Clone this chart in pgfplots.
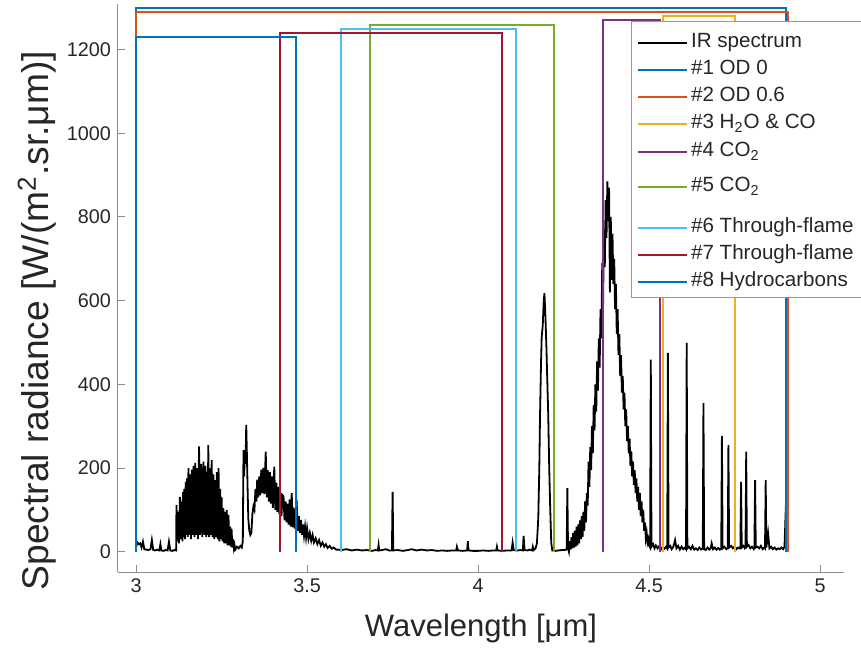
\documentclass[border=0pt]{standalone}
\usepackage{pgfplots}
\pgfplotsset{compat=1.18}
\usepackage{fontspec}
\setmainfont{Liberation Sans}
\definecolor{mA}{rgb}{0,0.447,0.741}
\definecolor{mB}{rgb}{0.850,0.325,0.098}
\definecolor{mC}{rgb}{0.929,0.694,0.125}
\definecolor{mD}{rgb}{0.494,0.184,0.556}
\definecolor{mE}{rgb}{0.466,0.674,0.188}
\definecolor{mF}{rgb}{0.301,0.745,0.933}
\definecolor{mG}{rgb}{0.635,0.078,0.184}
\definecolor{txt}{rgb}{0.15,0.15,0.15}
\begin{document}
\begin{tikzpicture}
\begin{axis}[
  scale only axis, width=363pt, height=284.2pt,
  xmin=2.947, xmax=5.07, ymin=-48.5, ymax=1310,
  axis lines*=left,
  axis line style={black!45, line width=0.5pt},
  tick style={black!45, line width=0.5pt},
  major tick length=3.5pt,
  tick align=inside,
  xtick={3,3.5,4,4.5,5}, xticklabels={3,3.5,4,4.5,5},
  ytick={0,200,400,600,800,1000,1200},
  yticklabels={0,200,400,600,800,1000,1200},
  /pgf/number format/assume math mode=true,
  tick label style={font=\fontsize{9.9}{11.8}\selectfont, text=txt},
  every axis x label/.style={at={(axis description cs:0.5,0)}, anchor=center, yshift=-28pt},
  every axis y label/.style={at={(axis description cs:-0.1116,0.442)}, rotate=90, anchor=center},
  xlabel style={font=\fontsize{15.5}{18}\selectfont, text=txt},
  ylabel style={font=\fontsize{18.6}{22}\selectfont, text=txt},
  xlabel={Wavelength [μm]},
  ylabel={Spectral radiance [W/(m\textsuperscript{2}.sr.μm)]},
  legend cell align=left,
  legend image code/.code={\draw[#1] (0pt,0pt) -- (24.5pt,0pt);},
  legend style={at={(rel axis cs:0.706,0.970)}, anchor=north west,
    draw=black!40, line width=0.5pt, fill=white,
    font=\fontsize{10.3}{12.4}\selectfont, text=txt,
    nodes={inner ysep=1.9pt, inner xsep=1.5pt, text height=7.5pt, text depth=2.2pt},
    inner xsep=3pt, inner ysep=2.5pt},
]
\addplot[black, line width=0.9pt] coordinates {
(3.000,12)(3.004,22)(3.008,18)(3.012,20)(3.016,10)(3.020,24)(3.024,6)(3.030,5)(3.036,4)(3.042,6)
(3.046,28)(3.050,4)(3.056,3)(3.062,5)(3.068,3)(3.071,18)(3.074,3)(3.080,2)(3.086,4)(3.092,3)
(3.096,24)(3.100,3)(3.106,2)(3.112,4)(3.117,3)
(3.118,112)(3.1205,25)(3.123,95)(3.1255,20)(3.128,131)(3.1305,30)(3.133,120)(3.1355,25)(3.137,143)(3.139,35)
(3.141,150)(3.143,30)(3.145,167)(3.147,40)(3.149,175)(3.151,35)(3.153,200)(3.1555,40)(3.158,185)(3.1605,30)
(3.163,196)(3.1655,40)(3.168,205)(3.1705,35)(3.173,212)(3.1755,40)(3.178,200)(3.181,30)(3.184,252)(3.187,40)
(3.190,210)(3.1935,35)(3.197,215)(3.200,40)(3.203,205)(3.205,35)(3.207,190)(3.209,40)(3.211,255)(3.2135,35)
(3.216,200)(3.2185,40)(3.221,219)(3.2235,35)(3.226,185)(3.2285,30)(3.231,171)(3.2335,35)(3.236,190)(3.2385,30)
(3.241,200)(3.2435,25)(3.246,150)(3.248,30)(3.250,130)(3.2525,25)(3.255,104)(3.2575,20)(3.260,95)(3.2625,20)
(3.265,100)(3.2675,15)(3.270,88)(3.2725,15)(3.275,60)(3.277,12)(3.279,55)(3.2815,10)(3.284,30)(3.286,8)
(3.288,15)(3.290,5)
(3.295,12)(3.300,8)(3.305,14)(3.309,10)(3.312,25)(3.314,243)(3.316,180)(3.318,243)(3.320,210)(3.322,303)
(3.324,230)(3.326,150)(3.328,80)(3.331,50)(3.334,40)(3.337,45)(3.340,90)(3.343,108)(3.346,100)(3.349,150)
(3.352,120)(3.354,172)(3.357,130)(3.360,180)(3.363,135)(3.366,196)(3.369,140)(3.372,200)(3.375,138)(3.379,239)
(3.382,130)(3.385,195)(3.388,120)(3.391,191)(3.394,115)(3.397,180)(3.400,105)(3.404,203)(3.407,100)(3.410,165)
(3.413,95)(3.416,155)(3.419,90)(3.422,140)(3.425,85)(3.428,135)(3.431,132)(3.434,75)(3.437,120)(3.440,70)
(3.443,115)(3.446,65)(3.449,125)(3.452,60)(3.455,140)(3.458,58)(3.461,105)(3.464,55)(3.467,95)(3.470,108)
(3.473,50)(3.476,85)(3.479,45)(3.482,76)(3.485,40)(3.488,65)(3.491,38)(3.494,60)(3.497,34)(3.500,56)
(3.504,30)(3.508,45)(3.512,26)(3.516,40)(3.520,22)(3.525,32)(3.530,18)(3.535,28)(3.540,14)(3.545,22)
(3.550,12)(3.555,18)(3.560,9)(3.566,14)(3.572,7)(3.578,10)(3.585,5)
(3.590,5)(3.600,4)(3.615,6)(3.630,3)(3.645,5)(3.660,3)(3.675,4)(3.690,2)(3.700,4)(3.707,3)
(3.709,16)(3.711,3)(3.720,4)(3.730,6)(3.740,3)(3.748,3)(3.750,143)(3.752,3)(3.765,4)(3.780,2)
(3.795,4)(3.806,6)(3.820,3)(3.835,5)(3.850,3)(3.865,4)(3.880,2)(3.895,3)(3.910,2)(3.925,3)
(3.936,3)(3.938,12)(3.941,3)(3.955,2)(3.968,3)(3.970,25)(3.972,3)(3.985,2)(4.000,2)(4.015,3)
(4.030,2)(4.045,3)(4.053,3)(4.055,12)(4.057,3)(4.070,2)(4.085,3)(4.098,3)(4.101,22)(4.104,4)
(4.115,3)(4.125,4)(4.131,3)(4.133,38)(4.136,4)(4.145,3)(4.150,5)(4.158,3)(4.160,12)(4.163,4)
(4.168,8)
(4.172,20)(4.176,80)(4.179,200)(4.181,320)(4.184,450)(4.186,514)(4.189,540)(4.192,600)(4.194,618)(4.197,560)
(4.200,482)(4.202,420)(4.205,330)(4.208,200)(4.211,100)(4.214,20)(4.217,3)(4.225,2)(4.235,3)(4.245,4)
(4.255,4)(4.259,6)(4.261,152)(4.263,8)
(4.2655,0)(4.268,25)(4.2705,5)(4.273,35)(4.2755,8)(4.278,45)(4.2805,10)(4.283,50)(4.2855,12)(4.288,60)
(4.2905,15)(4.293,65)(4.2955,20)(4.298,75)(4.3005,30)(4.303,85)(4.3055,35)(4.308,95)(4.3105,50)(4.313,120)
(4.3155,70)(4.318,140)(4.3205,110)(4.323,215)(4.3255,155)(4.328,250)(4.3305,195)(4.333,300)(4.3355,235)(4.338,350)
(4.3405,290)(4.343,400)(4.3455,335)(4.348,455)(4.3505,385)(4.353,510)(4.3555,440)(4.358,580)(4.3605,510)(4.363,690)
(4.3655,590)(4.368,770)(4.3705,680)(4.373,840)(4.3755,750)(4.378,885)(4.3805,790)(4.383,870)(4.3855,620)(4.388,800)
(4.3905,650)(4.393,760)(4.3955,640)(4.398,700)(4.4005,580)(4.403,640)(4.4055,520)(4.408,580)(4.4105,470)(4.413,520)
(4.4155,420)(4.418,470)(4.4205,380)(4.423,420)(4.4255,340)(4.428,380)(4.4305,300)(4.433,340)(4.4355,265)(4.438,300)
(4.4405,235)(4.443,270)(4.4455,205)(4.448,240)(4.4505,180)(4.453,215)(4.4555,160)(4.458,195)(4.4605,140)(4.463,175)
(4.4655,120)(4.468,155)(4.4705,100)(4.473,140)(4.4755,85)(4.478,120)(4.4805,70)(4.483,100)(4.4855,50)(4.488,70)
(4.4905,32)(4.493,45)(4.4955,22)(4.498,30)(4.500,15)
(4.503,10)(4.505,459)(4.507,12)(4.512,18)(4.516,8)(4.520,15)(4.525,8)(4.530,14)(4.535,6)(4.540,12)
(4.545,7)(4.550,12)(4.553,8)(4.555,475)(4.557,10)(4.562,14)(4.566,6)(4.571,12)(4.576,28)(4.580,8)
(4.585,14)(4.590,5)(4.595,12)(4.600,6)(4.605,10)(4.608,6)(4.610,499)(4.612,8)(4.617,12)(4.622,6)
(4.627,14)(4.632,5)(4.637,8)(4.642,4)(4.647,10)(4.652,5)(4.657,8)(4.659,355)(4.661,6)(4.666,4)
(4.671,10)(4.676,5)(4.680,8)(4.683,20)(4.687,6)(4.692,10)(4.697,5)(4.702,9)(4.707,5)(4.711,8)
(4.713,277)(4.715,8)(4.720,12)(4.726,6)(4.730,9)(4.732,255)(4.734,10)(4.740,14)(4.745,8)(4.750,12)
(4.755,6)(4.760,10)(4.765,8)(4.767,12)(4.769,167)(4.771,10)(4.776,14)(4.780,8)(4.782,10)(4.784,239)
(4.786,12)(4.791,16)(4.796,8)(4.801,12)(4.806,6)(4.808,10)(4.810,171)(4.812,10)(4.817,12)(4.822,8)
(4.827,14)(4.832,6)(4.837,10)(4.839,8)(4.841,171)(4.843,10)(4.848,44)(4.852,8)(4.857,12)(4.862,6)
(4.867,10)(4.872,5)(4.877,8)(4.882,6)(4.887,10)(4.892,6)(4.896,12)(4.898,60)(4.900,110)(4.902,143)
};
\addlegendentry[text height=9pt, yshift=0.75pt]{IR spectrum}
\addplot[mA, line width=1pt] coordinates {(3.0,0)(3.0,1300)(4.9,1300)(4.9,0)};
\addlegendentry{\#1 OD 0}
\addplot[mB, line width=1pt] coordinates {(3.0,0)(3.0,1290)(4.905,1290)(4.905,0)};
\addlegendentry{\#2 OD 0.6}
\addplot[mC, line width=1pt] coordinates {(4.54,0)(4.54,1280)(4.75,1280)(4.75,0)};
\addlegendentry[text depth=2.7pt, yshift=-0.25pt]{\#3 H\textsubscript{2}O \& CO}
\addplot[mD, line width=1pt] coordinates {(4.364,0)(4.364,1270)(4.532,1270)(4.532,0)};
\addlegendentry[text depth=6.2pt, yshift=-2pt]{\#4 CO\textsubscript{2}}
\addplot[mE, line width=1pt] coordinates {(3.684,0)(3.684,1260)(4.222,1260)(4.222,0)};
\addlegendentry[text depth=9.2pt, yshift=-3.5pt]{\#5 CO\textsubscript{2}}
\addplot[mF, line width=1pt] coordinates {(3.60,0)(3.60,1250)(4.11,1250)(4.11,0)};
\addlegendentry{\#6 Through-flame\hspace{6pt}}
\addplot[mG, line width=1pt] coordinates {(3.42,0)(3.42,1240)(4.07,1240)(4.07,0)};
\addlegendentry{\#7 Through-flame}
\addplot[mA, line width=1pt] coordinates {(3.0,0)(3.0,1230)(3.468,1230)(3.468,0)};
\addlegendentry[text depth=0.7pt, yshift=0.75pt]{\#8 Hydrocarbons}
\end{axis}
\pgfresetboundingbox
\path (current axis.south west) ++(-59pt,-38pt) rectangle ++(430.5pt,324pt);
\end{tikzpicture}
\end{document}
